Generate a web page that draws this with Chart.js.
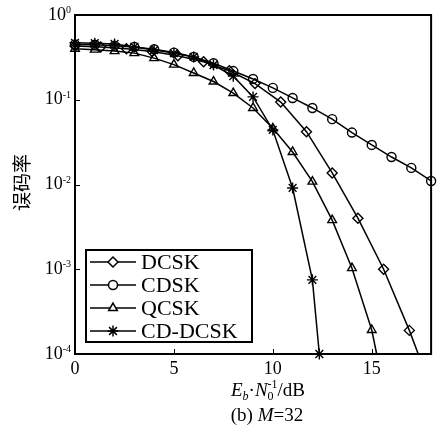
<!DOCTYPE html>
<html>
<head>
<meta charset="utf-8">
<script src="https://cdn.jsdelivr.net/npm/chart.js@4.4.1/dist/chart.umd.min.js"></script>
<style>
  html, body { margin: 0; padding: 0; background: #fff; overflow: hidden; }
</style>
</head>
<body>
<canvas id="berChart" width="438" height="427"></canvas>
<script>
// ---- DATA ----
const xTicks = [0, 5, 10, 15];
const yTicks = [1, 0.1, 0.01, 0.001, 0.0001];
const yTickExp = ["0", "-1", "-2", "-3", "-4"];

const dcskX = [0, 1.3, 2.6, 3.9, 5.2, 6.5, 7.8, 9.1, 10.4, 11.7, 13.0, 14.3, 15.6, 16.9, 17.35];
const dcskBer = [0.43, 0.42, 0.40, 0.37, 0.33, 0.28, 0.22, 0.155, 0.094, 0.042, 0.0137, 0.0040, 0.0010, 0.00019, 0.0001];

const cdskX = [0, 1, 2, 3, 4, 5, 6, 7, 8, 9, 10, 11, 12, 13, 14, 15, 16, 17, 18];
const cdskBer = [0.45, 0.445, 0.435, 0.42, 0.395, 0.36, 0.32, 0.27, 0.218, 0.176, 0.138, 0.105, 0.080, 0.059, 0.041, 0.0293, 0.0211, 0.0157, 0.0110];

const qcskX = [0, 1, 2, 3, 4, 5, 6, 7, 8, 9, 10, 11, 12, 13, 14, 15, 15.25];
const qcskBer = [0.40, 0.39, 0.375, 0.355, 0.31, 0.26, 0.207, 0.164, 0.12, 0.080, 0.046, 0.0242, 0.0108, 0.0038, 0.00103, 0.000192, 0.0001];

const cddcskX = [0, 1, 2, 3, 4, 5, 6, 7, 8, 9, 10, 11, 12, 12.35];
const cddcskBer = [0.47, 0.465, 0.455, 0.42, 0.386, 0.356, 0.32, 0.257, 0.19, 0.108, 0.044, 0.0091, 0.00075, 0.0001];

const SERIF = "'Liberation Serif', 'DejaVu Serif', serif";

function pts(xs, ys) {
  return xs.map((x, i) => ({ x: x, y: ys[i] }));
}

function series(label, xs, ys, style, r, lastMarker) {
  return {
    label: label,
    data: pts(xs, ys),
    borderColor: "#000",
    backgroundColor: "#fff",
    borderWidth: 1.5,
    pointStyle: style,
    pointBorderColor: "#000",
    pointBackgroundColor: "rgba(255,255,255,0)",
    pointBorderWidth: 1.4,
    // the end point where the curve leaves the axes has no marker
    pointRadius: (c) => (!lastMarker && c.dataIndex === xs.length - 1 ? 0 : r),
    legendRadius: r,
    tension: 0,
    clip: false,
  };
}

// ---- axes, ticks, legend and labels drawn on the canvas ----
const decor = {
  id: "decor",
  afterDatasetsDraw(chart) {
    const { ctx, chartArea: a } = chart;
    const xs = chart.scales.x;
    const ys = chart.scales.y;
    ctx.save();

    // frame
    ctx.strokeStyle = "#000";
    ctx.lineWidth = 2;
    ctx.strokeRect(a.left, a.top, a.right - a.left, a.bottom - a.top);

    // inward ticks
    ctx.lineWidth = 1;
    xTicks.forEach((v) => {
      const px = Math.round(xs.getPixelForValue(v)) + 0.5;
      ctx.beginPath();
      ctx.moveTo(px, a.bottom);
      ctx.lineTo(px, a.bottom - 5);
      ctx.stroke();
    });
    yTicks.forEach((v) => {
      const py = Math.round(ys.getPixelForValue(v)) + 0.5;
      ctx.beginPath();
      ctx.moveTo(a.left, py);
      ctx.lineTo(a.left + 5, py);
      ctx.stroke();
    });

    // x tick labels
    ctx.fillStyle = "#000";
    ctx.font = "18px " + SERIF;
    ctx.textAlign = "center";
    ctx.textBaseline = "middle";
    xTicks.forEach((v) => {
      ctx.fillText(String(v), xs.getPixelForValue(v), a.bottom + 15);
    });

    // y tick labels: 10 with superscript exponent
    yTicks.forEach((v, i) => {
      const py = ys.getPixelForValue(v);
      ctx.font = "10px " + SERIF;
      const supW = ctx.measureText(yTickExp[i]).width;
      const right = a.left - 4;
      ctx.textAlign = "left";
      ctx.textBaseline = "alphabetic";
      ctx.fillText(yTickExp[i], right - supW, py - 2);
      ctx.font = "18px " + SERIF;
      ctx.textAlign = "right";
      ctx.textBaseline = "middle";
      ctx.fillText("10", right - supW, py);
    });

    // y title
    ctx.save();
    ctx.translate(22, (a.top + a.bottom) / 2 - 2);
    ctx.rotate(-Math.PI / 2);
    ctx.font = "19px 'Noto Sans CJK SC'";
    ctx.textAlign = "center";
    ctx.textBaseline = "middle";
    ctx.fillText("误码率", 0, 0);
    ctx.restore();

    // x title and caption
    drawRich(ctx, [
      { t: "E", f: "italic 19px " + SERIF, dy: 0 },
      { t: "b", f: "italic 12px " + SERIF, dy: 4 },
      { t: "\u00b7", f: "19px " + SERIF, dy: 0 },
      { t: "N", f: "italic 19px " + SERIF, dy: 0 },
      { t: "0", f: "12px " + SERIF, dy: 4 },
      { t: "-1", f: "12px " + SERIF, dy: -8, back: true },
      { t: "/dB", f: "19px " + SERIF, dy: 0 },
    ], 268, 396);
    drawRich(ctx, [
      { t: "(b) ", f: "19px " + SERIF, dy: 0 },
      { t: "M", f: "italic 19px " + SERIF, dy: 0 },
      { t: "=32", f: "19px " + SERIF, dy: 0 },
    ], 267, 421);

    // legend box
    const box = { x: 86, y: 250, w: 166, h: 92 };
    ctx.fillStyle = "#fff";
    ctx.fillRect(box.x, box.y, box.w, box.h);
    ctx.strokeStyle = "#000";
    ctx.lineWidth = 2;
    ctx.strokeRect(box.x, box.y, box.w, box.h);
    chart.data.datasets.forEach((ds, i) => {
      const ly = box.y + 12 + i * 23;
      ctx.strokeStyle = "#000";
      ctx.lineWidth = 1.5;
      ctx.beginPath();
      ctx.moveTo(box.x + 4, ly);
      ctx.lineTo(box.x + 50, ly);
      ctx.stroke();
      ctx.fillStyle = "#fff";
      Chart.helpers.drawPoint(ctx, {
        pointStyle: ds.pointStyle,
        radius: ds.legendRadius,
        rotation: 0,
        borderWidth: 1.4,
      }, box.x + 27, ly);
      ctx.fillStyle = "#000";
      ctx.font = "22px " + SERIF;
      ctx.textAlign = "left";
      ctx.textBaseline = "middle";
      ctx.fillText(ds.label, box.x + 55, ly + 1);
    });

    ctx.restore();
  },
};

function drawRich(ctx, parts, cx, baseline) {
  let w = 0;
  let prevW = 0;
  parts.forEach((p) => {
    ctx.font = p.f;
    p.w = ctx.measureText(p.t).width;
    if (p.back) { w -= prevW; w += Math.max(prevW, p.w); } else { w += p.w; }
    prevW = p.w;
  });
  let x = cx - w / 2;
  let lastX = x;
  ctx.textAlign = "left";
  ctx.textBaseline = "alphabetic";
  ctx.fillStyle = "#000";
  parts.forEach((p) => {
    ctx.font = p.f;
    const px = p.back ? lastX : x;
    ctx.fillText(p.t, px, baseline + p.dy);
    if (p.back) {
      x = Math.max(x, px + p.w);
    } else {
      lastX = x;
      x += p.w;
    }
  });
}

const datasets = [
  series("DCSK", dcskX, dcskBer, "rectRot", 5, false),
  series("CDSK", cdskX, cdskBer, "circle", 4.5, true),
  series("QCSK", qcskX, qcskBer, "triangle", 5, false),
  series("CD-DCSK", cddcskX, cddcskBer, "star", 5.5, true),
];

new Chart(document.getElementById("berChart"), {
  type: "line",
  data: { datasets: datasets },
  options: {
    responsive: false,
    animation: false,
    devicePixelRatio: 1,
    layout: { padding: { left: 75, right: 1, top: 15, bottom: 73 } },
    plugins: {
      legend: { display: false },
      tooltip: { enabled: false },
    },
    scales: {
      x: { type: "linear", min: 0, max: 18, display: false },
      y: { type: "logarithmic", min: 0.0001, max: 1, display: false },
    },
  },
  plugins: [decor],
});
</script>
</body>
</html>
